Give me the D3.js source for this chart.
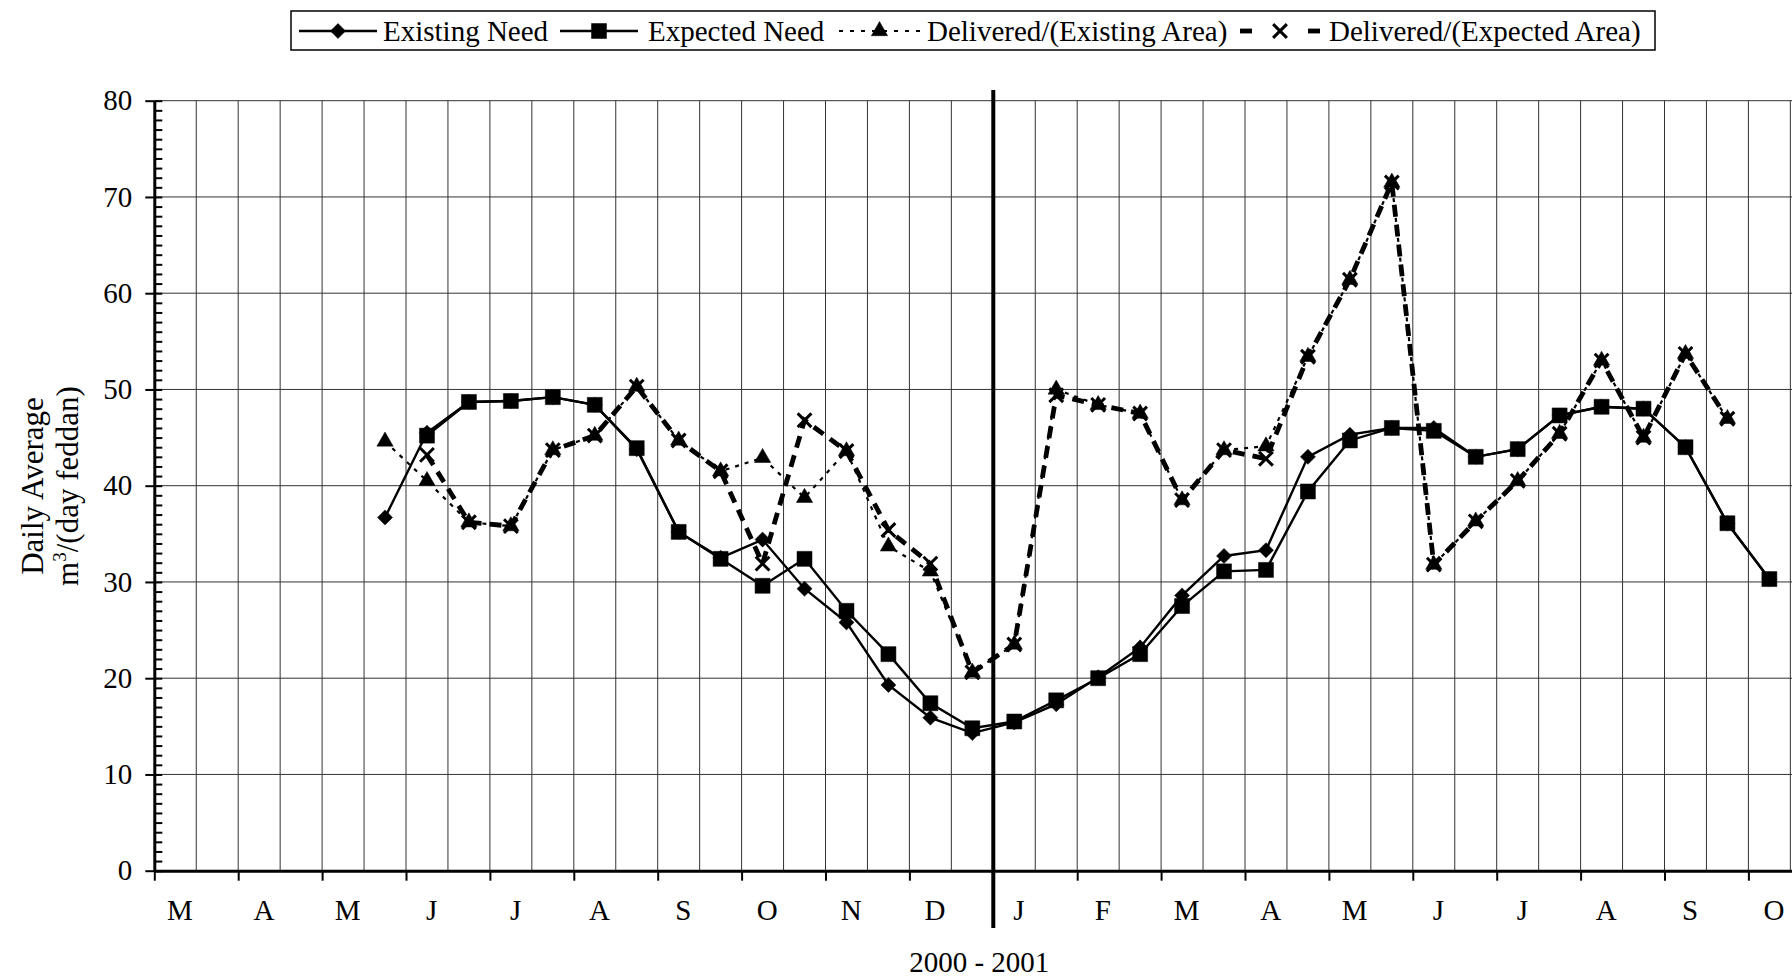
<!DOCTYPE html>
<html>
<head>
<meta charset="utf-8">
<script src="https://cdn.jsdelivr.net/npm/d3@7"></script>
<style>
html,body{margin:0;padding:0;background:#fff;}
svg{display:block;}
text{font-family:"Liberation Serif","Times New Roman",serif;fill:#000;}
</style>
</head>
<body>
<svg id="chart" width="1792" height="977"></svg>
<script>
// ---- data ----
const monthLabels = ["M","A","M","J","J","A","S","O","N","D","J","F","M","A","M","J","J","A","S","O"];
const yTicks = [0,10,20,30,40,50,60,70,80];
const xTitle = "2000 - 2001";
const yTitle1 = "Daily Average";
// half-month periods (0 = first half of March 2000)
const periods = [5,6,7,8,9,10,11,12,13,14,15,16,17,18,19,20,21,22,23,24,25,26,27,28,29,30,31,32,33,34,35,36,37,38];
const existingNeed = [36.7,45.5,48.7,48.8,49.2,48.4,43.8,35.2,32.5,34.4,29.3,25.8,19.3,15.9,14.3,15.4,17.3,20.1,23.2,28.6,32.7,33.3,43.0,45.3,46.0,46.0,43.0,43.8,47.3,48.2,48.0,44.0,36.1,30.3];
const expectedNeed = [null,45.2,48.7,48.8,49.2,48.4,43.9,35.2,32.4,29.6,32.4,27.0,22.5,17.4,14.8,15.5,17.7,20.0,22.5,27.5,31.1,31.25,39.4,44.7,46.0,45.7,43.0,43.8,47.3,48.2,48.0,44.0,36.1,30.3];
const deliveredExisting = [44.6,40.5,36.2,35.8,43.7,45.2,50.3,44.7,41.5,42.9,38.75,43.6,33.7,31.1,20.6,23.5,50.0,48.4,47.5,38.5,43.7,44.1,53.4,61.4,71.5,31.8,36.3,40.5,45.4,53.0,45.0,53.7,46.95,null];
const deliveredExpected = [null,43.2,36.2,35.8,43.7,45.2,50.3,44.7,41.5,31.9,46.8,43.6,35.4,31.9,20.6,23.5,49.4,48.4,47.5,38.5,43.7,42.8,53.4,61.4,71.5,31.8,36.3,40.5,45.4,53.0,45.0,53.7,46.95,null];
const seriesNames = ["Existing Need","Expected Need","Delivered/(Existing Area)","Delivered/(Expected Area)"];

// ---- layout ----
const svg = d3.select("#chart");
const plotLeft = 154.3, monthW = 83.9, plotTop = 100.7, plotBottom = 870.7;
const x = d3.scaleLinear().domain([0,20]).range([plotLeft, plotLeft + 20*monthW]);
const y = d3.scaleLinear().domain([0,80]).range([plotBottom, plotTop]);
const FS = 29;

// gridlines
const grid = svg.append("g");
grid.selectAll("line.v").data(d3.range(0.5,20,0.5)).join("line")
  .attr("x1", d=>x(d)).attr("x2", d=>x(d)).attr("y1", y(80)).attr("y2", y(0))
  .attr("stroke","#333").attr("stroke-width",1);
grid.selectAll("line.h").data(yTicks.filter(d=>d>0)).join("line")
  .attr("x1", x(0)).attr("x2", x(20)).attr("y1", d=>y(d)).attr("y2", d=>y(d))
  .attr("stroke","#333").attr("stroke-width",1);

// year separator
svg.append("line").attr("x1", x(10)).attr("x2", x(10)).attr("y1", 90).attr("y2", 928)
  .attr("stroke","#000").attr("stroke-width",4);

// y axis
const yAxis = svg.append("g").attr("transform",`translate(${x(0)},0)`)
  .call(d3.axisLeft(y).tickValues(yTicks).tickSize(9).tickSizeOuter(0).tickPadding(13));
yAxis.select(".domain").attr("stroke-width",3);
yAxis.selectAll(".tick line").attr("stroke-width",2);
yAxis.selectAll("text").style("font-size",FS+"px").style("font-family","Liberation Serif");
const yMinor = svg.append("g").attr("transform",`translate(${x(0)},0)`)
  .call(d3.axisRight(y).tickValues(d3.range(0,81,1)).tickSize(8).tickFormat(""));
yMinor.select(".domain").remove();
yMinor.selectAll(".tick line").attr("stroke-width",2);

// x axis
const xAxis = svg.append("g").attr("transform",`translate(0,${y(0)})`)
  .call(d3.axisBottom(x).tickValues(d3.range(0,20)).tickSize(10).tickSizeOuter(0)
    .tickFormat(i=>monthLabels[i]));
xAxis.select(".domain").attr("stroke-width",3);
xAxis.selectAll(".tick line").attr("stroke-width",2);
xAxis.selectAll("text").attr("x", monthW*0.3).attr("y", 49).attr("dy", 0)
  .style("font-size",FS+"px").style("font-family","Liberation Serif");

// titles
svg.append("text").attr("x", x(10)-14).attr("y", 972).attr("text-anchor","middle")
  .style("font-size",FS+"px").text(xTitle);
const yt = svg.append("text").attr("transform","translate(43,486) rotate(-90)")
  .attr("text-anchor","middle").style("font-size","31px");
yt.append("tspan").attr("x",0).attr("y",0).text(yTitle1);
const yt2 = svg.append("text").attr("transform","translate(78,486) rotate(-90)")
  .attr("text-anchor","middle").style("font-size","31px");
yt2.append("tspan").text("m");
yt2.append("tspan").attr("dy",-12).style("font-size","19px").text("3");
yt2.append("tspan").attr("dy",12).text("/(day feddan)");

// series
const px = i => x((i + 0.5) / 2);
function mk(vals){ return periods.map((p,k)=>({i:p, v:vals[k]})); }
const styles = [
  {vals: existingNeed, width:2.4, dash:null, sym:d3.symbolDiamond2, size:145, fill:true},
  {vals: expectedNeed, width:2.4, dash:null, sym:d3.symbolSquare, size:225, fill:true},
  {vals: deliveredExisting, width:2.2, dash:"4,6", sym:d3.symbolTriangle, size:115, fill:true},
  {vals: deliveredExpected, width:4.8, dash:"12,8", sym:d3.symbolTimes, size:125, fill:false}
];
const line = d3.line().defined(d=>d.v!=null).x(d=>px(d.i)).y(d=>y(d.v));
styles.forEach(s=>{
  const data = mk(s.vals);
  svg.append("path").datum(data).attr("d", line).attr("fill","none")
    .attr("stroke","#000").attr("stroke-width", s.width)
    .attr("stroke-dasharray", s.dash);
  svg.append("g").selectAll("path").data(data.filter(d=>d.v!=null)).join("path")
    .attr("transform", d=>`translate(${px(d.i)},${y(d.v)})`)
    .attr("d", d3.symbol().type(s.sym).size(s.size))
    .attr("fill", s.fill ? "#000" : "none")
    .attr("stroke","#000").attr("stroke-width", s.fill ? 0.5 : 3);
});

// legend
const lg = svg.append("g");
lg.append("rect").attr("x",291).attr("y",11).attr("width",1364).attr("height",39)
  .attr("fill","#fff").attr("stroke","#000").attr("stroke-width",1.5);
const legendX = [[299,377,383],[560,638,648],[839,920,927],[1240,1320,1329]];
const ly = 31;
styles.forEach((s,k)=>{
  const [a,b,t] = legendX[k];
  const m = (a+b)/2;
  if (k===3){
    lg.append("line").attr("x1",a).attr("x2",a+12).attr("y1",ly).attr("y2",ly).attr("stroke","#000").attr("stroke-width",4.8);
    lg.append("line").attr("x1",b-12).attr("x2",b).attr("y1",ly).attr("y2",ly).attr("stroke","#000").attr("stroke-width",4.8);
  } else if (k===2){
    lg.append("line").attr("x1",a).attr("x2",b).attr("y1",ly).attr("y2",ly).attr("stroke","#000").attr("stroke-width",2.2).attr("stroke-dasharray","4,7");
  } else {
    lg.append("line").attr("x1",a).attr("x2",b).attr("y1",ly).attr("y2",ly).attr("stroke","#000").attr("stroke-width",2.4);
  }
  lg.append("path").attr("transform",`translate(${m},${ly})`)
    .attr("d", d3.symbol().type(s.sym).size(s.size))
    .attr("fill", s.fill ? "#000" : "none").attr("stroke","#000").attr("stroke-width", s.fill?0.5:3);
  lg.append("text").attr("x",t).attr("y",ly).attr("dy","0.35em").style("font-size",FS+"px").text(seriesNames[k]);
});
</script>
</body>
</html>
